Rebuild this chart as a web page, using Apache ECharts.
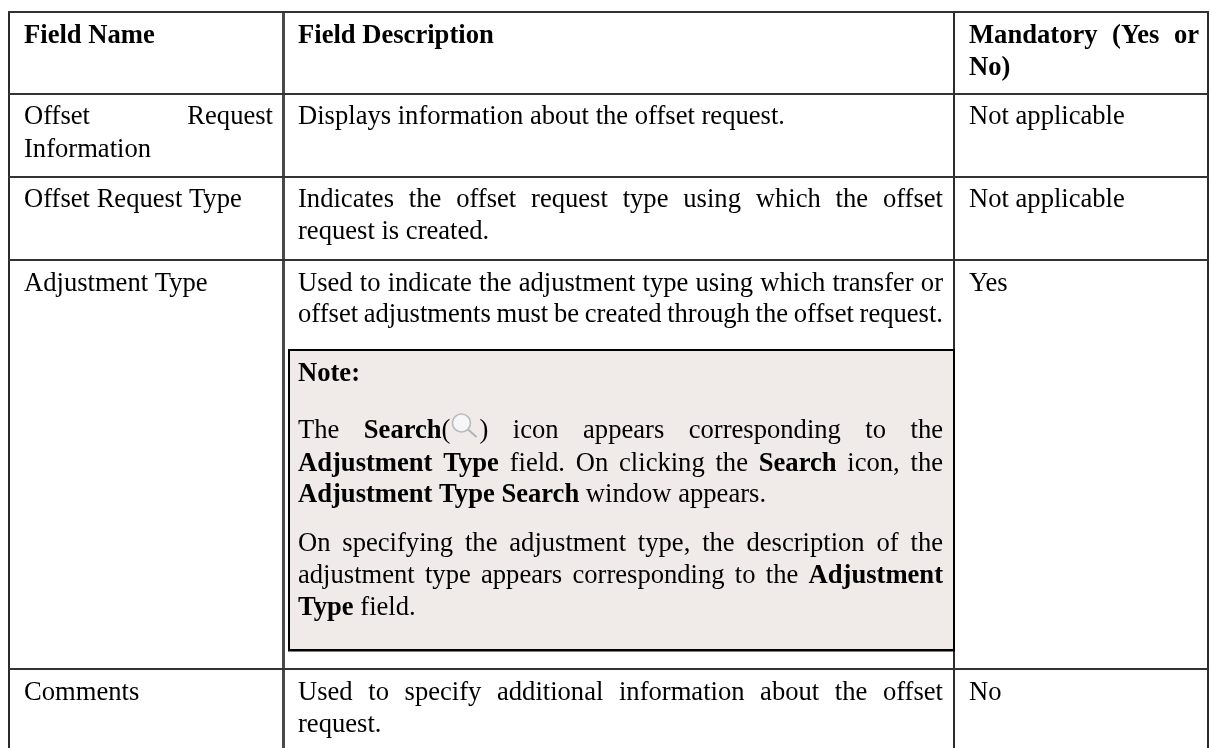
<!DOCTYPE html>
<html><head><meta charset="utf-8">
<style>html,body{margin:0;padding:0;background:#fff}#c{width:1211px;height:748px}</style>
<script src="https://cdn.jsdelivr.net/npm/echarts@6/dist/echarts.min.js"></script>
</head><body><div id="c"></div>
<script>
// Table text. *...* marks bold; {icon} marks the search glyph; trailing | marks a justified line.
const headers = ['*Field Name*', '*Field Description*', ['*Mandatory (Yes or*|', '*No)*']];
const fieldNames = [
  ['Offset Request|', 'Information'],
  ['Offset Request Type'],
  ['Adjustment Type'],
  ['Comments']
];
const fieldDescriptions = [
  ['Displays information about the offset request.'],
  ['Indicates the offset request type using which the offset|', 'request is created.'],
  ['Used to indicate the adjustment type using which transfer or|', 'offset adjustments must be created through the offset request.|'],
  ['Used to specify additional information about the offset|', 'request.']
];
const mandatoryValues = ['Not applicable', 'Not applicable', 'Yes', 'No'];
const noteTitle = '*Note:*';
const noteBody = [
  'The *Search*({icon}) icon appears corresponding to the|',
  '*Adjustment Type* field. On clicking the *Search* icon, the|',
  '*Adjustment Type Search* window appears.'
];
const noteBody2 = [
  'On specifying the adjustment type, the description of the|',
  'adjustment type appears corresponding to the *Adjustment*|',
  '*Type* field.'
];

// Layout
const FS = 26.6, FAMILY = '"Liberation Serif","Times New Roman",serif';
const COL = {a:[24,273], b:[298,943], c:[969,1199]};
const ctx = document.createElement('canvas').getContext('2d');
const fontOf = b => (b ? 'bold ' : '') + FS + 'px ' + FAMILY;
const measure = (t,b) => { ctx.font = fontOf(b); return ctx.measureText(t).width; };
function midOffset(b){
  ctx.font = fontOf(b); ctx.textBaseline='middle';
  const v = ctx.measureText('x').alphabeticBaseline;
  ctx.textBaseline='alphabetic';
  return (v===undefined||v===null) ? 0.3375*FS : Math.abs(v);
}
const OFF = {true:midOffset(true), false:midOffset(false)};
const els = [];

function rect(x,y,w,h,fill){ els.push({type:'rect',silent:true,shape:{x,y,width:w,height:h},style:{fill}}); }

function parseWords(s){
  let bold=false; const words=[]; let cur=[];
  const toks = s.split(/(\*|\{icon\}| )/).filter(x=>x!=='' );
  for(const k of toks){
    if(k==='*'){bold=!bold;}
    else if(k===' '){ if(cur.length){words.push(cur);cur=[];} }
    else if(k==='{icon}'){cur.push({icon:true});}
    else cur.push({t:k,b:bold});
  }
  if(cur.length)words.push(cur);
  return words;
}
const ICONW = 29;
const pieceW = p => p.icon ? ICONW : measure(p.t,p.b);
function drawLine(str,col,base){
  const just = str.endsWith('|');
  const s = just ? str.slice(0,-1) : str;
  const words = parseWords(s);
  const ww = words.map(w=>w.reduce((a,p)=>a+pieceW(p),0));
  const total = ww.reduce((a,b)=>a+b,0);
  const space = measure(' ',false);
  const gap = just && words.length>1 ? (col[1]-col[0]-total)/(words.length-1) : space;
  let x = col[0];
  words.forEach((w,i)=>{
    let px=x;
    w.forEach(p=>{
      if(p.icon){ drawIcon(px,base); }
      else els.push({type:'text',silent:true,style:{text:p.t,x:px,y:base-OFF[p.b],font:fontOf(p.b),fill:'#000',textAlign:'left',textVerticalAlign:'middle'}});
      px+=pieceW(p);
    });
    x+=ww[i]+gap;
  });
}
function drawIcon(x,base){
  const cx=x+11, cy=base-15;
  els.push({type:'line',silent:true,shape:{x1:cx+6,y1:cy+6,x2:cx+15,y2:cy+14},style:{stroke:'#b0b4b8',lineWidth:2}});
  els.push({type:'circle',silent:true,shape:{cx,cy,r:9},style:{fill:'#f6f6f6',stroke:'#b8bcc0',lineWidth:1.6}});
}
function drawCell(lines,col,bases){ lines.forEach((l,i)=>drawLine(l,col,bases[i])); }

// note background and borders
rect(288,350,666,300,'#f0ebe9');
// grid
const lc='#2b2b2b';
[[8,2],[282,3],[953,2],[1207,2]].forEach(([x,w])=>rect(x,11,w,737,x===282?'#4a4a4a':lc));
[[11,2],[93,2],[176,2],[259,2],[668,2]].forEach(([y,h])=>rect(8,y,1201,h,'#333'));
// note border
rect(288,349,667,2,'#000'); rect(288,649,667,2.5,'#000');
rect(288,349,2,302,'#000'); rect(953,349,2,302,'#000');

// text
drawLine(headers[0],COL.a,43); drawLine(headers[1],COL.b,43);
drawCell(headers[2],COL.c,[43,75]);
drawCell(fieldNames[0],COL.a,[124,157]);
drawCell(fieldNames[1],COL.a,[207]);
drawCell(fieldNames[2],COL.a,[291]);
drawCell(fieldNames[3],COL.a,[700]);
drawCell(fieldDescriptions[0],COL.b,[124]);
drawCell(fieldDescriptions[1],COL.b,[207,239]);
drawCell(fieldDescriptions[2],COL.b,[291,322]);
drawCell(fieldDescriptions[3],COL.b,[700,732]);
drawCell(mandatoryValues.slice(0,1),COL.c,[124]);
drawCell(mandatoryValues.slice(1,2),COL.c,[207]);
drawCell(mandatoryValues.slice(2,3),COL.c,[291]);
drawCell(mandatoryValues.slice(3,4),COL.c,[700]);
drawLine(noteTitle,COL.b,381);
drawCell(noteBody,COL.b,[438,471,502]);
drawCell(noteBody2,COL.b,[551,583,615]);

const chart = echarts.init(document.getElementById('c'),null,{renderer:'canvas'});
chart.setOption({animation:false,backgroundColor:'#fff',graphic:{elements:els}});
</script></body></html>
